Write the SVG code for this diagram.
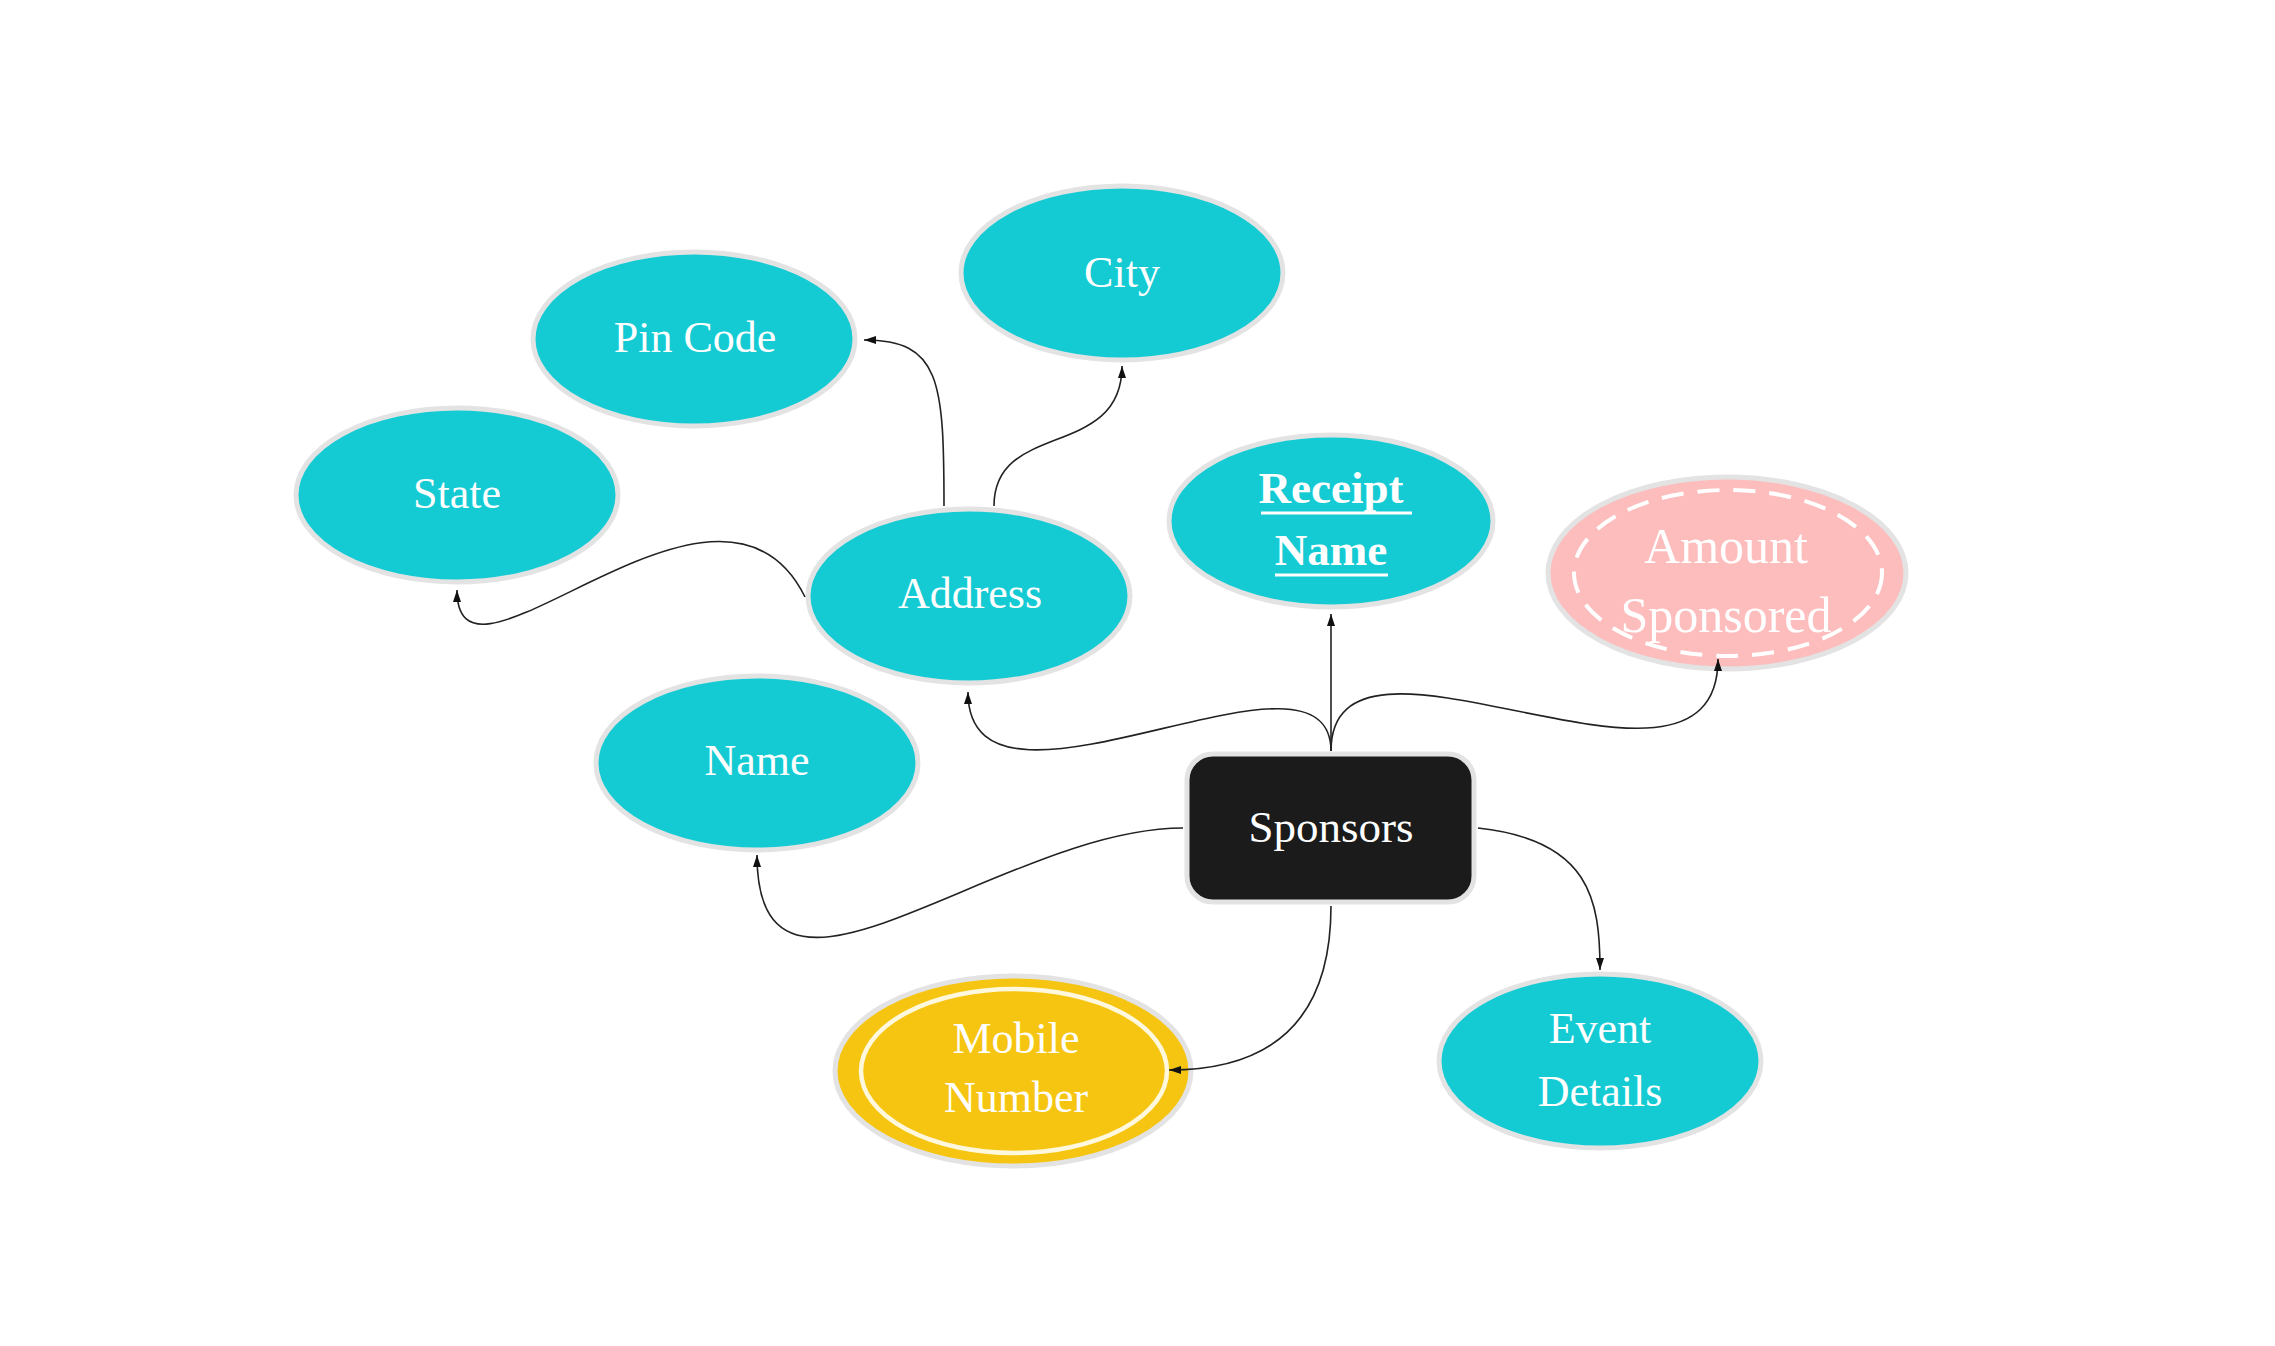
<svg xmlns="http://www.w3.org/2000/svg" width="2275" height="1346" viewBox="0 0 2275 1346">
<style>
  .attr { fill: #14cbd4; stroke: #e3e3e3; stroke-width: 5; }
  .lbl { font-family: "Liberation Serif", "Times New Roman", serif; font-size: 44px; fill: #ffffff; text-anchor: middle; }
  .conn { fill: none; stroke: #222222; stroke-width: 1.6; marker-end: url(#arrow); }
</style>
<defs>
  <marker id="arrow" viewBox="0 0 12 8" refX="12" refY="4" markerWidth="12" markerHeight="8" markerUnits="userSpaceOnUse" orient="auto">
    <path d="M0,0 L12,4 L0,8 z" fill="#111111"/>
  </marker>
</defs>
<rect width="2275" height="1346" fill="#ffffff"/>

<g id="node-sponsors">
  <rect x="1187" y="754" width="287" height="148" rx="26" ry="26" fill="#1b1b1b" stroke="#e3e3e3" stroke-width="5"/>
  <text class="lbl" x="1331" y="842" style="font-size:45px">Sponsors</text>
</g>

<g id="node-city">
  <ellipse class="attr" cx="1122" cy="273" rx="161" ry="87"/>
  <text class="lbl" x="1122" y="287">City</text>
</g>

<g id="node-pincode">
  <ellipse class="attr" cx="694" cy="339" rx="161" ry="87"/>
  <text class="lbl" x="695" y="352">Pin Code</text>
</g>

<g id="node-state">
  <ellipse class="attr" cx="457" cy="495" rx="161" ry="87"/>
  <text class="lbl" x="457" y="508">State</text>
</g>

<g id="node-address">
  <ellipse class="attr" cx="969" cy="596" rx="161" ry="87"/>
  <text class="lbl" x="970" y="608">Address</text>
</g>

<g id="node-receipt-name">
  <ellipse class="attr" cx="1331" cy="521" rx="162" ry="86"/>
  <text class="lbl" x="1331" y="503" style="font-weight:bold;font-size:45px">Receipt</text>
  <line x1="1261" y1="513" x2="1412" y2="513" stroke="#ffffff" stroke-width="3"/>
  <text class="lbl" x="1331" y="565" style="font-weight:bold;font-size:45px">Name</text>
  <line x1="1275" y1="575" x2="1388" y2="575" stroke="#ffffff" stroke-width="3"/>
</g>

<g id="node-amount-sponsored">
  <ellipse cx="1727" cy="573" rx="179" ry="96" fill="#fdbdbd" stroke="#e3e3e3" stroke-width="5"/>
  <ellipse cx="1728" cy="573" rx="154" ry="83" fill="none" stroke="#ffffff" stroke-width="4" stroke-dasharray="22 14"/>
  <text class="lbl" x="1726" y="563" style="font-size:50px">Amount</text>
  <text class="lbl" x="1726" y="632" style="font-size:50px">Sponsored</text>
</g>

<g id="node-name">
  <ellipse class="attr" cx="757" cy="763" rx="161" ry="87"/>
  <text class="lbl" x="757" y="775">Name</text>
</g>

<g id="node-mobile-number">
  <ellipse cx="1013" cy="1071" rx="178" ry="95" fill="#f6c512" stroke="#e3e3e3" stroke-width="5"/>
  <ellipse cx="1014" cy="1071" rx="153" ry="82" fill="none" stroke="#fff8dc" stroke-width="4.5"/>
  <text class="lbl" x="1016" y="1053">Mobile</text>
  <text class="lbl" x="1016" y="1112">Number</text>
</g>

<g id="node-event-details">
  <ellipse class="attr" cx="1600" cy="1061" rx="161" ry="87"/>
  <text class="lbl" x="1600" y="1043">Event</text>
  <text class="lbl" x="1600" y="1106">Details</text>
</g>

<g id="connectors">
  <path class="conn" d="M1331,751 L1331,614"/>
  <path class="conn" d="M1331,751 C1331,620 968,850 968,692"/>
  <path class="conn" d="M1331,751 C1331,590 1718,840 1718,659"/>
  <path class="conn" d="M1183,828 C1000,828 757,1055 757,855"/>
  <path class="conn" d="M1478,828 C1590,840 1600,900 1600,970"/>
  <path class="conn" d="M1331,906 C1331,1040 1250,1070 1169,1070"/>
  <path class="conn" d="M944,506 C944,380 940,340 864,340"/>
  <path class="conn" d="M994,506 C994,420 1122,460 1122,366"/>
  <path class="conn" d="M805,597 C720,425 457,720 457,590"/>
</g>
</svg>
